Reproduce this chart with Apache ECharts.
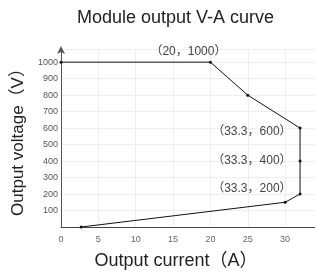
<!DOCTYPE html>
<html>
<head>
    <meta charset="utf-8">
    <title>Module output V-A curve</title>
    <script src="https://cdn.jsdelivr.net/npm/echarts@6.0.0/dist/echarts.min.js"></script>
    <style>
        body { margin: 0; padding: 0; overflow: hidden; background: #fff; }
        #chart { width: 315px; height: 275px; }
    </style>
</head>
<body>
    <div id="chart"></div>
    <script>
        // 曲线数据 (电流 A, 电压 V)
        const currents = [0, 20, 25, 32, 32, 32, 30, 2.7];
        const voltages = [1000, 1000, 800, 600, 400, 200, 150, 0];
        // 标注文字
        const pointLabels = ['', '（20，1000）', '', '（33.3，600）', '（33.3，400）', '（33.3，200）', '', ''];

        const font = "'Liberation Sans', Arial, 'Noto Sans CJK SC', sans-serif";
        const chart = echarts.init(document.getElementById('chart'));

        const labelPos = {
            1: { position: 'top', offset: [-22, 2] },
            3: { position: 'left', offset: [-2, 4] },
            4: { position: 'left', offset: [-2, 0] },
            5: { position: 'left', offset: [-2, -5] }
        };

        const data = currents.map((c, i) => {
            const item = { value: [c, voltages[i]] };
            if (pointLabels[i]) {
                item.label = {
                    show: true,
                    formatter: pointLabels[i],
                    position: labelPos[i].position,
                    offset: labelPos[i].offset,
                    distance: 5,
                    fontSize: 12,
                    color: '#444',
                    fontFamily: font
                };
            }
            return item;
        });

        chart.setOption({
            animation: false,
            title: {
                text: 'Module output V-A curve',
                left: 77,
                top: 9,
                padding: 0,
                textStyle: { fontSize: 18, fontWeight: 'normal', color: '#222', fontFamily: font }
            },
            grid: { left: 61, right: 0, top: 49, bottom: 46, containLabel: false },
            xAxis: {
                type: 'value',
                min: 0,
                max: 34,
                interval: 5,
                name: 'Output current（A）',
                nameLocation: 'middle',
                nameGap: 25,
                nameTextStyle: { fontSize: 18, color: '#222', fontFamily: font, padding: [0, 24, 0, 0] },
                axisLine: { show: true, lineStyle: { color: '#444', width: 1 } },
                axisTick: { show: false },
                axisLabel: { fontSize: 9, color: '#666', margin: 8, showMaxLabel: false, fontFamily: font },
                splitLine: { show: true, lineStyle: { color: '#eee' } }
            },
            yAxis: {
                type: 'value',
                min: 0,
                max: 1080,
                interval: 100,
                name: 'Output voltage（V）',
                nameLocation: 'middle',
                nameGap: 29,
                nameTextStyle: { fontSize: 17, color: '#222', fontFamily: font },
                axisLine: { show: true, symbol: ['none', 'arrow'], symbolSize: [6, 8], symbolOffset: [0, 3], lineStyle: { color: '#555', width: 1 } },
                axisTick: { show: false },
                axisLabel: {
                    fontSize: 9, color: '#555', margin: 3,
                    showMinLabel: false, showMaxLabel: false, fontFamily: font,
                    formatter: v => String(v)
                },
                splitLine: { show: true, lineStyle: { color: '#eee' } }
            },
            series: [{
                type: 'line',
                data: data,
                symbol: 'circle',
                symbolSize: 3,
                itemStyle: { color: '#111' },
                lineStyle: { color: '#111', width: 1 },
                clip: false
            }]
        });
    </script>
</body>
</html>
